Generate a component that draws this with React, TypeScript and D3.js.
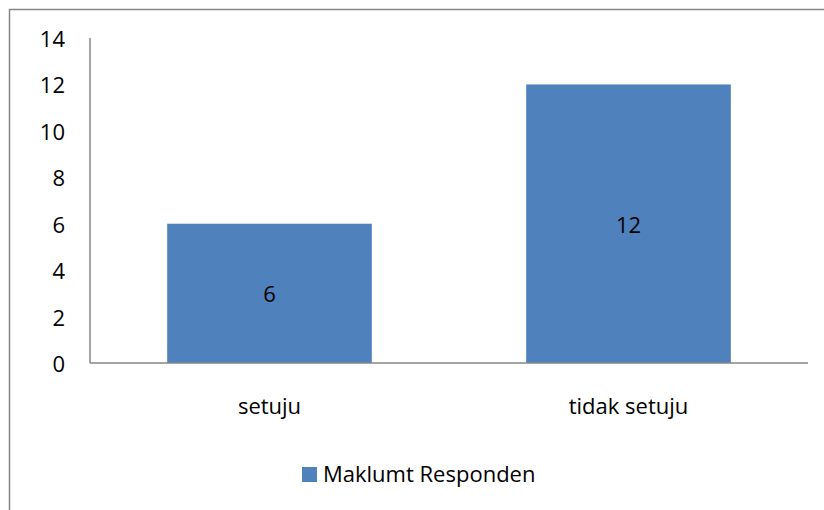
import * as d3 from 'd3';
import React from 'react';

const categories = ['setuju', 'tidak setuju'];
const values = [6, 12];
const seriesName = 'Maklumt Responden';
const yTicks = [0, 2, 4, 6, 8, 10, 12, 14];

const W = 824;
const H = 510;
const margin = { left: 90, right: 16, top: 38, bottom: 147 };
const font = '"Open Sans", sans-serif';
const barColor = '#4F81BD';
const axisColor = '#868686';
const fs = 22;

export default function App() {
  const x = d3.scaleBand<string>()
    .domain(categories)
    .range([margin.left, W - margin.right])
    .paddingInner(0.43)
    .paddingOuter(0.215);

  const y = d3.scaleLinear()
    .domain([0, 14])
    .range([H - margin.bottom, margin.top]);

  const y0 = y(0);

  return (
    <svg width={W} height={H} style={{ position: 'absolute', left: 0, top: 0 }} fontFamily={font}>
      <rect x={0} y={0} width={W} height={H} fill="#fff" />
      {/* chart area frame, cropped on right and bottom */}
      <rect x={9.5} y={9.5} width={W + 20} height={H + 20} fill="none" stroke={axisColor} strokeWidth={1.5} />

      {values.map((v, i) => (
        <rect key={i} x={x(categories[i])} y={y(v)} width={x.bandwidth()} height={y0 - y(v)} fill={barColor} />
      ))}

      {values.map((v, i) => (
        <text key={'l' + i} x={x(categories[i])! + x.bandwidth() / 2} y={(y(v) + y0) / 2}
          textAnchor="middle" dominantBaseline="central" fontSize={fs} fill="#000">{v}</text>
      ))}

      {/* axes */}
      <line x1={margin.left} x2={margin.left} y1={margin.top} y2={y0} stroke={axisColor} strokeWidth={1.5} />
      <line x1={margin.left} x2={W - margin.right} y1={y0} y2={y0} stroke={axisColor} strokeWidth={1.5} />

      {yTicks.map(t => (
        <text key={t} x={65} y={y(t)} textAnchor="end" dominantBaseline="central" fontSize={fs} fill="#000">{t}</text>
      ))}

      {categories.map(c => (
        <text key={c} x={x(c)! + x.bandwidth() / 2} y={414} textAnchor="middle" fontSize={fs} fill="#000">{c}</text>
      ))}

      {/* legend */}
      <rect x={302} y={467} width={15} height={15} fill={barColor} />
      <text x={323} y={482} fontSize={fs} fill="#000">{seriesName}</text>
    </svg>
  );
}
